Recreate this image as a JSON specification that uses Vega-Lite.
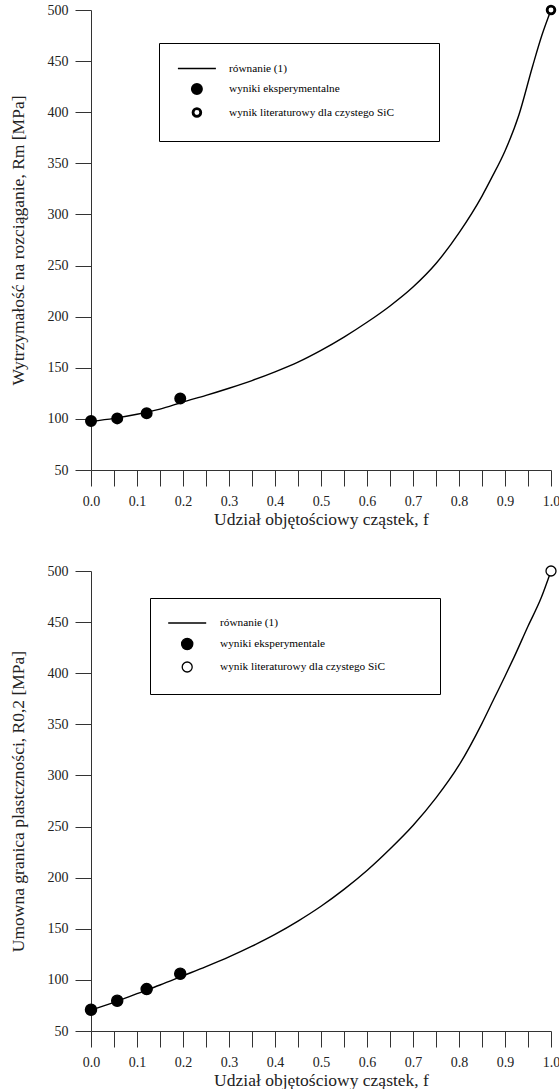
{
  "$schema": "https://vega.github.io/schema/vega-lite/v6.json",
  "padding": {"left": 9, "top": 0, "right": 0, "bottom": 0},
  "bounds": "flush",
  "spacing": 101,
  "config": {
    "font": "Liberation Serif",
    "view": {"stroke": null},
    "axis": {
      "labelFont": "Liberation Serif", "labelFontSize": 14, "labelColor": "#222",
      "titleFont": "Liberation Serif", "titleFontSize": 17.5, "titleFontWeight": "normal", "titleColor": "#222",
      "grid": false, "domainColor": "#333", "tickColor": "#333", "domainWidth": 1, "tickWidth": 1
    },
    "legend": {
      "labelFont": "Liberation Serif", "labelColor": "#000", "labelLimit": 400
    }
  },
  "datasets": {
    "curveTop": [
      {"f": 0, "v": 97.5}, {"f": 0.05, "v": 100.5}, {"f": 0.1, "v": 104.5}, {"f": 0.15, "v": 109.5},
      {"f": 0.2, "v": 116.5}, {"f": 0.25, "v": 123}, {"f": 0.3, "v": 130}, {"f": 0.35, "v": 137.5},
      {"f": 0.4, "v": 146}, {"f": 0.45, "v": 155.5}, {"f": 0.5, "v": 167}, {"f": 0.55, "v": 180},
      {"f": 0.6, "v": 194.5}, {"f": 0.65, "v": 210.5}, {"f": 0.7, "v": 229}, {"f": 0.75, "v": 252},
      {"f": 0.8, "v": 282}, {"f": 0.85, "v": 318}, {"f": 0.87, "v": 335}, {"f": 0.9, "v": 362},
      {"f": 0.93, "v": 397}, {"f": 0.96, "v": 445}, {"f": 0.98, "v": 475}, {"f": 1.0, "v": 500}
    ],
    "pointsTop": [
      {"f": 0, "v": 98, "series": "wyniki eksperymentalne"},
      {"f": 0.057, "v": 100.5, "series": "wyniki eksperymentalne"},
      {"f": 0.121, "v": 105.5, "series": "wyniki eksperymentalne"},
      {"f": 0.194, "v": 120, "series": "wyniki eksperymentalne"},
      {"f": 1.0, "v": 500, "series": "wynik literaturowy dla czystego SiC"}
    ],
    "curveBottom": [
      {"f": 0, "v": 70.5}, {"f": 0.05, "v": 78}, {"f": 0.1, "v": 86.5}, {"f": 0.15, "v": 95},
      {"f": 0.2, "v": 104}, {"f": 0.25, "v": 113}, {"f": 0.3, "v": 122.5}, {"f": 0.35, "v": 133},
      {"f": 0.4, "v": 144.5}, {"f": 0.45, "v": 157.5}, {"f": 0.5, "v": 172}, {"f": 0.55, "v": 188.5},
      {"f": 0.6, "v": 207}, {"f": 0.65, "v": 228}, {"f": 0.7, "v": 251}, {"f": 0.75, "v": 278},
      {"f": 0.8, "v": 310}, {"f": 0.85, "v": 351}, {"f": 0.876, "v": 375}, {"f": 0.9, "v": 397},
      {"f": 0.92, "v": 416}, {"f": 0.95, "v": 446}, {"f": 0.978, "v": 473}, {"f": 1.0, "v": 500}
    ],
    "pointsBottom": [
      {"f": 0, "v": 70.8, "series": "wyniki eksperymentale"},
      {"f": 0.057, "v": 79.6, "series": "wyniki eksperymentale"},
      {"f": 0.121, "v": 91, "series": "wyniki eksperymentale"},
      {"f": 0.194, "v": 106, "series": "wyniki eksperymentale"},
      {"f": 1.0, "v": 500, "series": "wynik literaturowy dla czystego SiC"}
    ]
  },
  "resolve": {
    "scale": {"shape": "independent", "fill": "independent", "stroke": "independent"},
    "legend": {"shape": "independent", "fill": "independent", "stroke": "independent"}
  },
  "vconcat": [
    {
      "width": 460, "height": 460,
      "encoding": {
        "x": {"field": "f", "type": "quantitative", "scale": {"domain": [0, 1], "nice": false},
          "axis": {"title": "Udział objętościowy cząstek, f",
            "values": [0, 0.05, 0.1, 0.15, 0.2, 0.25, 0.3, 0.35, 0.4, 0.45, 0.5, 0.55, 0.6, 0.65, 0.7, 0.75, 0.8, 0.85, 0.9, 0.95, 1.0],
            "labelExpr": "round(datum.value*20) % 2 === 0 ? format(datum.value, '.1f') : ''",
            "tickSize": 16,
            "encode": {"ticks": {"update": {"y2": [{"test": "round(datum.value*20) % 2 === 1", "value": 8}, {"value": 16}]}}},
            "labelPadding": 8.5, "titlePadding": 2, "labelFlush": false, "labelOverlap": false}},
        "y": {"field": "v", "type": "quantitative", "scale": {"domain": [50, 500], "nice": false, "zero": false},
          "axis": {"title": "Wytrzymałość na rozciąganie, Rm [MPa]",
            "values": [50, 100, 150, 200, 250, 300, 350, 400, 450, 500],
            "tickSize": 16, "labelPadding": 7, "titlePadding": 19.5, "labelFlush": false, "labelOverlap": false}}
      },
      "layer": [
        {
          "data": {"name": "curveTop"},
          "mark": {"type": "line", "color": "#000", "strokeWidth": 1.4, "interpolate": "monotone"}
        },
        {
          "data": {"name": "pointsTop"},
          "mark": {"type": "point", "filled": true, "size": 100, "strokeWidth": 2.8, "opacity": 1},
          "encoding": {
            "shape": {"field": "series", "type": "nominal",
              "scale": {"domain": ["równanie (1)", "wyniki eksperymentalne", "wynik literaturowy dla czystego SiC"],
                "range": ["M-3.8,-0.15H3.8V0.15H-3.8ZM43.5,0",
                  "M0.92,0A0.92,0.92,0,1,1,-0.92,0A0.92,0.92,0,1,1,0.92,0Z",
                  "M0.77,0A0.77,0.77,0,1,1,-0.77,0A0.77,0.77,0,1,1,0.77,0Z"]}},
            "fill": {"field": "series", "type": "nominal",
              "scale": {"domain": ["równanie (1)", "wyniki eksperymentalne", "wynik literaturowy dla czystego SiC"],
                "range": ["#000", "#000", "#fff"]},
              "legend": {"title": null, "orient": "none", "legendX": 68, "legendY": 33, "direction": "vertical",
                "strokeColor": "#000", "fillColor": "#fff", "padding": 19, "rowPadding": 3.5,
                "symbolSize": 100, "symbolStrokeWidth": 2.8, "symbolOffset": 12.4, "labelOffset": 25.6,
                "labelFontSize": 11.3, "symbolOpacity": 1}},
            "stroke": {"field": "series", "type": "nominal",
              "scale": {"domain": ["równanie (1)", "wyniki eksperymentalne", "wynik literaturowy dla czystego SiC"],
                "range": ["transparent", "#000", "#000"]}}
          }
        }
      ]
    },
    {
      "width": 460, "height": 460,
      "encoding": {
        "x": {"field": "f", "type": "quantitative", "scale": {"domain": [0, 1], "nice": false},
          "axis": {"title": "Udział objętościowy cząstek, f",
            "values": [0, 0.05, 0.1, 0.15, 0.2, 0.25, 0.3, 0.35, 0.4, 0.45, 0.5, 0.55, 0.6, 0.65, 0.7, 0.75, 0.8, 0.85, 0.9, 0.95, 1.0],
            "labelExpr": "round(datum.value*20) % 2 === 0 ? format(datum.value, '.1f') : ''",
            "tickSize": 16,
            "encode": {"ticks": {"update": {"y2": [{"test": "round(datum.value*20) % 2 === 1", "value": 8}, {"value": 16}]}}},
            "labelPadding": 8.5, "titlePadding": 2, "labelFlush": false, "labelOverlap": false}},
        "y": {"field": "v", "type": "quantitative", "scale": {"domain": [50, 500], "nice": false, "zero": false},
          "axis": {"title": "Umowna granica plastczności, R0,2 [MPa]",
            "values": [50, 100, 150, 200, 250, 300, 350, 400, 450, 500],
            "tickSize": 16, "labelPadding": 7, "titlePadding": 19.5, "labelFlush": false, "labelOverlap": false}}
      },
      "layer": [
        {
          "data": {"name": "curveBottom"},
          "mark": {"type": "line", "color": "#000", "strokeWidth": 1.4, "interpolate": "monotone"}
        },
        {
          "data": {"name": "pointsBottom"},
          "mark": {"type": "point", "filled": true, "size": 100, "strokeWidth": 1.3, "opacity": 1},
          "encoding": {
            "shape": {"field": "series", "type": "nominal",
              "scale": {"domain": ["równanie (1)", "wyniki eksperymentale", "wynik literaturowy dla czystego SiC"],
                "range": ["M-3.8,-0.15H3.8V0.15H-3.8ZM46.2,0",
                  "M1.12,0A1.12,1.12,0,1,1,-1.12,0A1.12,1.12,0,1,1,1.12,0Z",
                  "circle"]}},
            "fill": {"field": "series", "type": "nominal",
              "scale": {"domain": ["równanie (1)", "wyniki eksperymentale", "wynik literaturowy dla czystego SiC"],
                "range": ["#000", "#000", "#fff"]},
              "legend": {"title": null, "orient": "none", "legendX": 59, "legendY": 27, "direction": "vertical",
                "strokeColor": "#000", "fillColor": "#fff", "padding": 19, "rowPadding": 6,
                "symbolSize": 100, "symbolStrokeWidth": 1.3, "symbolOffset": 12.2, "labelOffset": 26.8,
                "labelFontSize": 11.3, "symbolOpacity": 1}},
            "stroke": {"field": "series", "type": "nominal",
              "scale": {"domain": ["równanie (1)", "wyniki eksperymentale", "wynik literaturowy dla czystego SiC"],
                "range": ["transparent", "#000", "#000"]}}
          }
        }
      ]
    }
  ]
}
